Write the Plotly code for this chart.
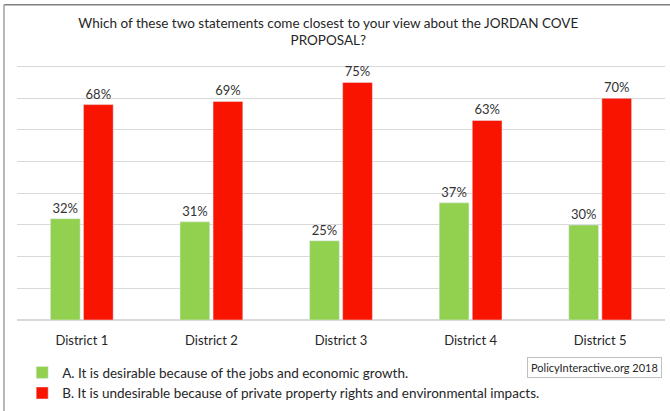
import plotly.graph_objects as go

districts = ["District 1", "District 2", "District 3", "District 4", "District 5"]
desirable = [32, 31, 25, 37, 30]
undesirable = [68, 69, 75, 63, 70]
labels_a = [f"{v}%" for v in desirable]
labels_b = [f"{v}%" for v in undesirable]

FONT = "Lato"

fig = go.Figure()
fig.add_trace(go.Bar(
    x=districts, y=desirable, name="A. It is desirable because of the jobs and economic growth.",
    marker=dict(color="#92D050"), text=labels_a, textposition="outside",
    textfont=dict(family=FONT, size=13, color="#333333"), cliponaxis=False,
))
fig.add_trace(go.Bar(
    x=districts, y=undesirable,
    name="B. It is undesirable because of private property rights and environmental impacts.",
    marker=dict(color="#F91400"), text=labels_b, textposition="outside",
    textfont=dict(family=FONT, size=13, color="#333333"), cliponaxis=False,
))

fig.update_layout(
    width=670, height=411,
    margin=dict(l=17, r=5, t=65, b=91, autoexpand=False),
    paper_bgcolor="white", plot_bgcolor="white",
    font=dict(family=FONT, size=13, color="#404040"),
    barmode="group", bargap=0.49, bargroupgap=0.1,
    title=dict(
        text="Which of these two statements come closest to your view about the JORDAN COVE<br>PROPOSAL?",
        x=0.49, xanchor="center", y=0.932, yanchor="top",
        font=dict(family=FONT, size=13.5, color="#262626"),
    ),
    xaxis=dict(showgrid=False, showline=False, ticks="outside", ticklen=8,
               tickcolor="rgba(0,0,0,0)", tickfont=dict(size=13, color="#262626")),
    yaxis=dict(range=[0, 80.5], tickvals=[10, 20, 30, 40, 50, 60, 70, 80],
               showticklabels=False, showgrid=True,
               gridcolor="#D9D9D9", gridwidth=1, zeroline=True, zerolinecolor="#D9D9D9",
               showline=False),
    legend=dict(orientation="v", x=0.008, xanchor="left", yref="container", y=0.131,
                yanchor="top", font=dict(size=13.5, color="#262626"),
                bgcolor="rgba(0,0,0,0)", tracegroupgap=0),
    showlegend=True,
)

fig.add_annotation(
    text="PolicyInteractive.org 2018", xref="paper", yref="paper",
    x=0.891, y=-0.186, xanchor="center", yanchor="middle", showarrow=False,
    font=dict(size=11, color="#262626"), bordercolor="#BFBFBF", borderwidth=1,
    borderpad=3, bgcolor="white",
)

# outer frame (top and left edges of the screenshot border)
fig.add_shape(type="line", xref="paper", yref="paper", x0=-0.02, x1=1.01,
              y0=1.236, y1=1.236, line=dict(color="#808080", width=1.5))
fig.add_shape(type="line", xref="paper", yref="paper", x0=-0.0201, x1=-0.0201,
              y0=1.236, y1=-0.37, line=dict(color="#A0A0A0", width=1.5))

# let the figure fill the window (no default page margin)
fig.write_html("out.html", config={"displayModeBar": False},
               post_script="document.body.style.margin='0';")
